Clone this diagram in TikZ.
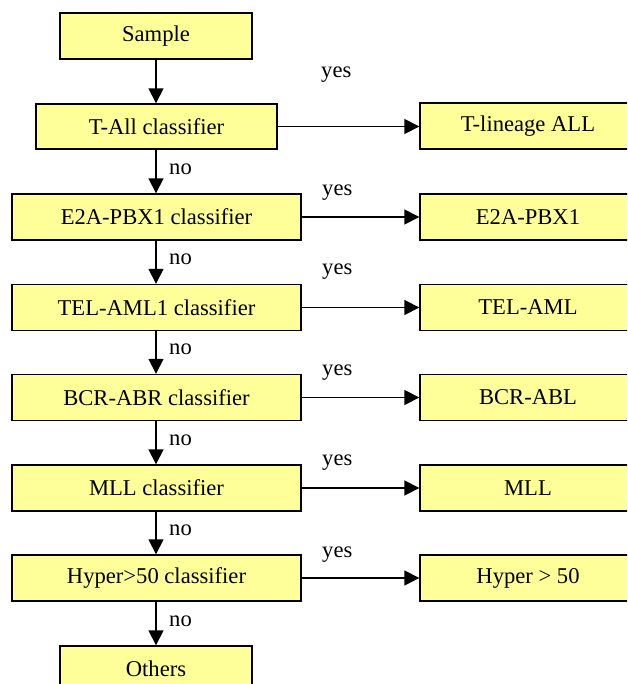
\documentclass[tikz,border=0pt]{standalone}
\usepackage{fontspec}
\setmainfont{Liberation Serif}
\usetikzlibrary{arrows.meta}
\definecolor{boxfill}{HTML}{FFFF99}
\tikzset{
  x=1pt,y=-1pt,
  fbox/.style={draw=black, fill=boxfill, line width=1.4pt, inner sep=0pt, minimum height=46pt, font=\fontsize{22.6}{24}\selectfont},
  cbox/.style={fbox, minimum width=289pt},
  rbox/.style={fbox, minimum width=216pt},
  conn/.style={line width=1.6pt, -{Triangle[length=15pt,width=15pt]}},
  lbl/.style={inner sep=0pt, font=\fontsize{22.6}{24}\selectfont},
}
\begin{document}
\begin{tikzpicture}
\useasboundingbox (0,0) rectangle (627,684);
\clip (0,0) rectangle (627,684);
\node[fbox, minimum width=192pt] (sample) at (156,36) {Sample};
\node[fbox, minimum width=241pt, minimum height=45pt] (tall) at (156.5,126.5) {T-All classifier};
\node[cbox] (e2a) at (156.5,217) {E2A-PBX1 classifier};
\node[cbox] (tel) at (156.5,307.5) {TEL-AML1 classifier};
\node[cbox] (bcr) at (156.5,397.5) {BCR-ABR classifier};
\node[cbox] (mll) at (156.5,488) {MLL classifier};
\node[cbox] (hyp) at (156.5,578) {Hyper>50 classifier};
\node[fbox, minimum width=192pt] (oth) at (156,669) {Others};

\node[rbox] (rtall) at (528,126) {T-lineage ALL};
\node[rbox] (re2a) at (528,217) {E2A-PBX1};
\node[rbox] (rtel) at (528,307.5) {TEL-AML};
\node[rbox] (rbcr) at (528,397.5) {BCR-ABL};
\node[rbox] (rmll) at (528,488) {MLL};
\node[rbox] (rhyp) at (528,578) {Hyper > 50};

\draw[conn] (sample.south -| 156,0) -- (tall.north -| 156,0);
\draw[conn] (tall.south -| 156,0) -- (e2a.north -| 156,0);
\draw[conn] (e2a.south -| 156,0) -- (tel.north -| 156,0);
\draw[conn] (tel.south -| 156,0) -- (bcr.north -| 156,0);
\draw[conn] (bcr.south -| 156,0) -- (mll.north -| 156,0);
\draw[conn] (mll.south -| 156,0) -- (hyp.north -| 156,0);
\draw[conn] (hyp.south -| 156,0) -- (oth.north -| 156,0);

\draw[conn] (tall.east) -- (tall.east -| rtall.west);
\draw[conn] (e2a.east) -- (e2a.east -| re2a.west);
\draw[conn] (tel.east) -- (tel.east -| rtel.west);
\draw[conn] (bcr.east) -- (bcr.east -| rbcr.west);
\draw[conn] (mll.east) -- (mll.east -| rmll.west);
\draw[conn] (hyp.east) -- (hyp.east -| rhyp.west);

\node[lbl, anchor=west] (no1) at (169,169) {no};
\node[lbl, anchor=west] (no2) at (169,259) {no};
\node[lbl, anchor=west] (no3) at (169,349) {no};
\node[lbl, anchor=west] (no4) at (169,440) {no};
\node[lbl, anchor=west] (no5) at (169,530) {no};
\node[lbl, anchor=west] (no6) at (169,621) {no};

\node[lbl, anchor=west] (y1) at (321,75) {yes};
\node[lbl, anchor=west] (y2) at (322,193) {yes};
\node[lbl, anchor=west] (y3) at (322,272) {yes};
\node[lbl, anchor=west] (y4) at (322,373) {yes};
\node[lbl, anchor=west] (y5) at (322,463) {yes};
\node[lbl, anchor=west] (y6) at (322,555) {yes};
\end{tikzpicture}
\end{document}
